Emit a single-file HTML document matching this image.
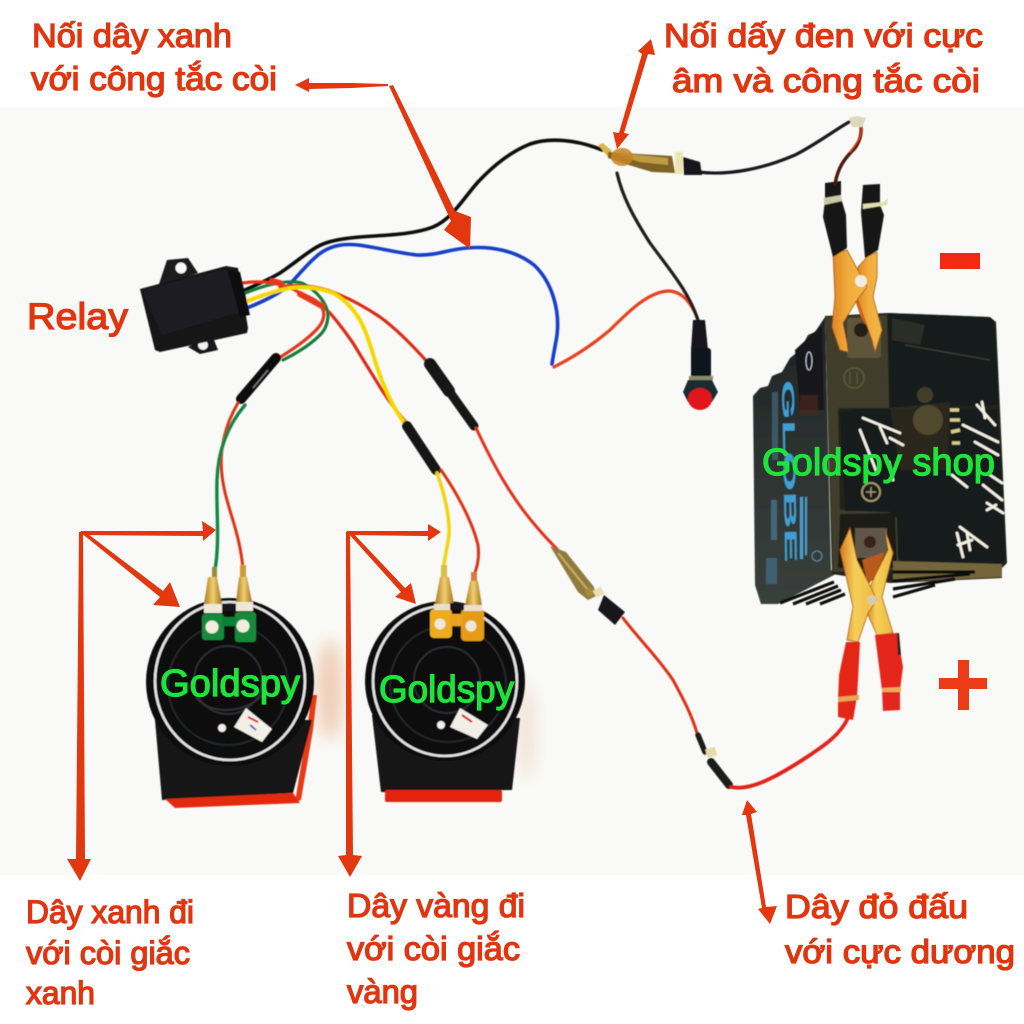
<!DOCTYPE html>
<html lang="vi">
<head>
<meta charset="utf-8">
<title>Relay horn wiring diagram</title>
<style>
html,body{margin:0;padding:0;background:#fff}
svg{display:block}
.t{font-family:"Liberation Sans",sans-serif;font-size:33px;fill:#e2350f;stroke:#e2350f;stroke-width:1.3}
.g{font-family:"Liberation Sans",sans-serif;font-size:38px;fill:#1de43a;stroke:#1de43a;stroke-width:1.3}
.w{fill:none;stroke-linecap:round;stroke-linejoin:round}
</style>
</head>
<body>
<svg width="1024" height="1024" viewBox="0 0 1024 1024" xmlns="http://www.w3.org/2000/svg">
<defs>
<filter id="soft" x="-10%" y="-10%" width="120%" height="120%"><feGaussianBlur stdDeviation="0.45"/></filter>
<filter id="sh" x="-50%" y="-30%" width="200%" height="160%"><feGaussianBlur stdDeviation="8"/></filter>
<linearGradient id="gold" x1="0" x2="1" y1="0" y2="0"><stop offset="0" stop-color="#a9781d"/><stop offset=".5" stop-color="#f0cf72"/><stop offset="1" stop-color="#a3721b"/></linearGradient>
<linearGradient id="jaw" x1="0" x2="1" y1="0" y2="0"><stop offset="0" stop-color="#df8526"/><stop offset=".45" stop-color="#f2ac3c"/><stop offset="1" stop-color="#f0b748"/></linearGradient>
<linearGradient id="jaw2" x1="0" x2="1" y1="0" y2="0"><stop offset="0" stop-color="#d47a22"/><stop offset=".4" stop-color="#f5cf58"/><stop offset="1" stop-color="#eeb93f"/></linearGradient>
<linearGradient id="side" x1="0" x2="0" y1="0" y2="1"><stop offset="0" stop-color="#1f2425"/><stop offset="1" stop-color="#3a403c"/></linearGradient>
</defs>

<rect width="1024" height="1024" fill="#fff"/>
<rect y="107" width="1024" height="768" fill="#f9faf7"/>

<!-- horn shadows -->
<ellipse cx="330" cy="690" rx="14" ry="50" fill="#eec5a8" filter="url(#sh)" opacity=".8"/>
<ellipse cx="526" cy="730" rx="10" ry="50" fill="#ecd2c0" filter="url(#sh)" opacity=".55"/>

<g filter="url(#soft)">
<!-- black wire to clip from relay -->
<path class="w" stroke="#111" stroke-width="3.6" d="M245 290C258 284 270 279 280 273C292 265 300 258 312 250C322 243 333 240 350 238C375 235 410 236 433 227C452 219 462 200 478 182C492 167 510 152 530 144C550 137 578 140 602 150"/>
<!-- blue wire -->
<path class="w" stroke="#1540c8" stroke-width="3.6" d="M247 308C262 302 275 296 287 287C298 276 306 265 318 255C328 247 340 243 358 245C375 247 398 253 417 255C435 256 450 249 467 248C490 246 515 250 534 265C552 282 560 310 557 335C555 348 553 356 552 364"/>
<!-- red/orange switch wire -->
<path class="w" stroke="#e8401a" stroke-width="3.2" d="M554 367C572 358 590 347 610 330C628 312 648 292 668 291C682 291 692 303 698 320"/>
<!-- black wire to switch -->
<path class="w" stroke="#1a1a1a" stroke-width="3.2" d="M617 173C622 195 632 215 650 243C668 268 688 290 698 320"/>

<!-- long red wire to fuse -->
<path class="w" stroke="#dc2c12" stroke-width="3.2" d="M280 287C298 284 312 286 327 290C345 296 362 305 380 317C398 330 415 348 430 365"/>
<!-- red wire to horn 2 -->
<path class="w" stroke="#dc2c12" stroke-width="3.2" d="M300 295C310 298 318 303 327 310C337 320 345 332 353 343C362 358 372 374 380 387C388 400 398 413 408 425"/>
<!-- green -->
<path class="w" stroke="#187a3a" stroke-width="3.2" d="M243 294C262 286 285 279 302 283C316 290 328 303 328 317C327 325 325 330 320 335C310 345 297 353 283 360"/>
<!-- red stub to horn 1 -->
<path class="w" stroke="#e5361a" stroke-width="3.2" d="M243 283C262 280 285 283 300 293C312 298 321 302 323 310C325 316 323 322 318 328C307 340 293 349 279 358"/>
<path class="w" stroke="#e8381a" stroke-width="6" d="M272 281L280 283M300 294L322 306"/>
<!-- yellow wire -->
<path class="w" stroke="#f6d800" stroke-width="4" d="M245 302C260 296 275 291 290 288C305 286 320 288 333 293C346 300 354 310 360 320C368 335 372 352 377 367C383 385 393 408 405 424"/>

<!-- heat shrink horn1 -->
<path class="w" stroke="#111" stroke-width="10" d="M241 399L276 358"/>
<path stroke="#777" stroke-width="1.5" d="M253 388L268 370"/>
<!-- horn 1 wires -->
<path class="w" stroke="#dd3319" stroke-width="3" d="M238 403C225 425 219 450 222 475C225 505 240 530 243 570"/>
<path class="w" stroke="#158445" stroke-width="3.4" d="M245 405C228 425 218 450 217 480C216 510 220 540 215 570"/>

<!-- heat shrink horn 2 -->
<path class="w" stroke="#141414" stroke-width="10" d="M407 426L436 470"/>
<path class="w" stroke="#f0d518" stroke-width="3.6" d="M437 473C445 495 450 518 449 535C447 550 444 560 443 572"/>
<path class="w" stroke="#dd3319" stroke-width="3" d="M441 470C455 490 472 520 478 545C480 560 476 570 473 578"/>

<!-- fuse -->
<path class="w" stroke="#141414" stroke-width="12" d="M430 364L449 391"/>
<path class="w" stroke="#141414" stroke-width="9" d="M449 391L474 426"/>
<!-- red to alligator -->
<path class="w" stroke="#e0301a" stroke-width="3" d="M476 428C492 462 510 496 535 525C545 537 553 545 558 550"/>
<!-- alligator connector -->
<path d="M550 546L566 552L594 587L596 596L588 600L578 592Z" fill="#8f7a3f"/>
<path d="M558 553L588 590" stroke="#c9ab62" stroke-width="2"/>
<circle cx="590" cy="592" r="4.5" fill="#a68d3d"/>
<path d="M598 610L604 595L625 612L615 625Z" fill="#15191f"/>
<rect x="594" y="588" width="9" height="8" fill="#e8e0b0" transform="rotate(-30 599 592)"/>
<!-- red to connector -->
<path class="w" stroke="#df2d17" stroke-width="3" d="M623 618C638 638 660 660 673 680C684 700 692 716 697 733"/>
<path class="w" stroke="#1a1a1a" stroke-width="5.5" d="M698 735L705 752"/>
<rect x="706" y="748" width="10" height="9" fill="#e5dca8" transform="rotate(-15 711 752)"/>
<path class="w" stroke="#1d1d1d" stroke-width="8" d="M711 762L729 785"/>
<path class="w" stroke="#e2201a" stroke-width="3.8" d="M731 787C750 791 775 778 807 757C825 745 840 735 848 718"/>

<!-- RELAY -->
<path d="M158 287L167 260L188 258L198 273Z" fill="#1a1b1d"/>
<circle cx="181" cy="268" r="5.5" fill="#f9faf7"/>
<path d="M188 347L212 335L218 350L200 354Z" fill="#17181a"/>
<circle cx="203" cy="345" r="5" fill="#f2f2ee"/>
<path d="M140 289L226 266L238 268L248 328L247 333L160 352L155 350Z" fill="#151618"/>
<path d="M142 290L226 269L240 312L162 335Z" fill="#1d1e20"/>
<path d="M228 270L240 272L250 315L240 317Z" fill="#0e0e0f"/>

<!-- SWITCH -->
<path d="M693 320H705L708 350H691Z" fill="#15191c"/>
<rect x="691" y="348" width="20" height="30" rx="3" fill="#10171a"/>
<rect x="689" y="376" width="24" height="4" fill="#8b8a66"/>
<path d="M688 380H712L718 392L712 402H688L683 392Z" fill="#1b2a30"/>
<ellipse cx="700" cy="399" rx="12" ry="11" fill="#e0121c"/>

<!-- CLIP on wire -->
<path class="w" stroke="#17171a" stroke-width="3.2" d="M698 172C730 176 765 168 795 155C815 145 835 130 849 122"/>
<path d="M598 145L603 143L612 151L608 157Z" fill="#d9b648"/>
<path d="M608 152L672 156L675 173L652 172L622 163L608 158Z" fill="#7d6327"/>
<path d="M610 152L668 158L668 165L640 162Z" fill="#c09a45"/>
<ellipse cx="622" cy="157" rx="11" ry="9" fill="#c98227" opacity=".85"/>
<rect x="675" y="152" width="8" height="22" fill="#ece5b0"/>
<path d="M683 157L700 162L702 175L684 175Z" fill="#17181a"/>

<!-- BATTERY -->
<!-- left face -->
<path d="M825 317L831 570L836 574L778 604L761 604L755 585L753 396L760 388L768 386L772 376L782 372L790 358L800 350L808 335L815 332Z" fill="url(#side)"/>
<path d="M795 350L822 325L824 410L800 410Z" fill="#15181c"/>
<rect x="800" y="395" width="18" height="20" fill="#4a2a20" opacity=".7"/>
<ellipse cx="809" cy="361" rx="3" ry="9" fill="none" stroke="#ccd" stroke-width="1"/>
<!-- front base -->
<path d="M825 316L888 313L990 317L996 322L1007 563L1000 570L1002 578L890 583L832 574Z" fill="#23231a"/>
<!-- top right -->
<path d="M888 313L988 317L994 322L999 405L890 408Z" fill="#191c1d"/>
<path d="M892 318L925 325L920 345L892 340Z" fill="#34362e" opacity=".7"/>
<path d="M905 345L990 360" stroke="#3a3a30" stroke-width="1.5"/>
<!-- olive column -->
<path d="M825 317L887 315L889 408L838 408L840 510L900 513L898 570L833 572Z" fill="#3f3d2a"/>
<circle cx="854" cy="378" r="10" fill="none" stroke="#5b5236" stroke-width="2"/>
<path d="M850 372V384M857 372V384" stroke="#5b5236" stroke-width="1.5"/>
<!-- inner dark -->
<path d="M840 412L860 409H997L1006 560L995 565H906L898 558L897 518L888 511H845Z" fill="#151a1b"/>
<path d="M890 408L950 402L948 470L900 470Z" fill="#2d2c20" opacity=".85"/>
<circle cx="928" cy="420" r="15" fill="#5f5436" opacity=".75"/>
<circle cx="925" cy="395" r="8" fill="#5f5436" opacity=".6"/>
<path d="M840 514L895 513L897 568L838 568Z" fill="#1d1d17"/>
<circle cx="871" cy="492" r="9" fill="none" stroke="#a39466" stroke-width="2"/>
<path d="M866 492H876M871 487V497" stroke="#a39466" stroke-width="1.5"/>
<!-- ledge -->
<path d="M893 561L1002 564L1002 577L893 582Z" fill="#75653a"/>
<!-- GLOBE label -->
<text transform="translate(782 380) rotate(89)" font-family="Liberation Sans, sans-serif" font-weight="700" font-size="17" fill="#3f9fd2" textLength="183" lengthAdjust="spacingAndGlyphs">GLOBE</text>
<rect x="772" y="392" width="6" height="68" fill="#4b7a94" opacity=".55"/>
<rect x="771" y="500" width="6" height="40" fill="#4b7a94" opacity=".7"/>
<rect x="766" y="558" width="11" height="26" fill="#3f6d85" opacity=".75"/>
<rect x="800" y="497" width="3" height="62" fill="#4d9cc7"/>
<rect x="805" y="497" width="2" height="58" fill="#4d9cc7"/>
<circle cx="817" cy="556" r="5" fill="none" stroke="#5d8ea8"/>
<!-- white writing -->
<g stroke="#f5f0e2" stroke-width="2.8" fill="none" stroke-linecap="round">
<path d="M863 418L900 433M860 430L877 473M880 427L887 443M890 438L903 445"/>
<path d="M977 405L995 425M982 402L985 418M963 425L998 442M975 442L998 455M952 475L967 487M990 475L1002 483M983 485L1002 500M987 503L1003 513M987 510L996 505"/>
<path d="M960 527L987 547M957 533L963 557M967 533L970 550M958 545L972 540"/>
<path d="M889 462L893 480" />
</g>
<path d="M950 410H959M950 420H960M951 432L960 430M952 443H960" stroke="#d9c98a" stroke-width="3.5" fill="none"/>
<!-- fins -->
<g stroke="#0e0e10" stroke-width="3.2">
<path d="M780 603L834 582M793 604L838 586M806 604L841 590M820 604L845 594M893 572L975 572M893 581L970 574M893 589L955 579M893 597L935 585"/>
</g>
<!-- Upper terminal -->
<rect x="847" y="318" width="34" height="40" rx="3" fill="#5e553a"/>
<circle cx="861" cy="330" r="7" fill="#251c14"/>
<!-- Upper clip jaws -->
<path d="M855 300L872 290L874 307L866 325L860 315Z" fill="#d9641a"/>
<path d="M877 252L868 256L858 267L857 298L872 340L875 352L882 330L873 297L877 277Z" fill="url(#jaw)" stroke="#a4561a" stroke-width=".8"/>
<path d="M833 253L847 250L867 287L857 300L843 323L847 343L848 352L840 350L832 327L835 297Z" fill="url(#jaw)" stroke="#a4561a" stroke-width=".8"/>
<circle cx="861" cy="281" r="6" fill="#f1ede0"/>
<!-- Upper handles -->
<path d="M825 183L841 181L841 198L846 215L847 248L833 257L823 217L825 200Z" fill="#121416"/>
<path d="M863 185L880 184L880 205L884 215L878 250L865 258L861 212Z" fill="#121416"/>
<path d="M824 198L841 195L842 201L824 205Z" fill="#c9c7a5"/>
<path d="M863 204L884 202L888 198L887 205L863 209Z" fill="#dfe0a8"/>
<path class="w" stroke="#4a160a" stroke-width="3.4" d="M835 184C838 168 843 160 855 148C862 138 862 128 860 124"/>
<path class="w" stroke="#d13a14" stroke-width="1.8" d="M850 152C858 142 863 135 861 126"/>
<path d="M849 118L857 116L866 118L862 127L852 127Z" fill="#dcd8bd"/>

<!-- Lower terminal -->
<rect x="855" y="528" width="32" height="30" fill="#5d564a"/>
<circle cx="870" cy="542" r="6" fill="#3b2013"/>
<!-- Lower clip jaws -->
<path d="M862 560L884 552L880 570L868 585Z" fill="#b75a1a"/>
<path d="M885 530L893 553L882 597L893 633L877 635L868 615L865 600L873 580L888 550Z" fill="url(#jaw2)" stroke="#a8591b" stroke-width=".8"/>
<path d="M850 528L840 550L853 607L847 640L858 642L868 613L877 600L857 560Z" fill="url(#jaw2)" stroke="#a8591b" stroke-width=".8"/>
<circle cx="872" cy="600" r="5" fill="#d8ccb0"/>
<!-- Lower handles -->
<path d="M846 642H860L858 680L857 697L853 720L838 717L838 700L839 675Z" fill="#e42814"/>
<path d="M875 635L897 633L903 667L900 690L900 710L883 711L882 690Z" fill="#e4281a"/>
<path d="M897 633L899 633L901 655L898 655Z" fill="#222"/>
<path d="M838 697L859 695V700L838 702Z" fill="#e9a55a"/>
<path d="M882 688L901 687V692L882 692Z" fill="#ecab5e"/>

<!-- HORN 1 -->
<path d="M312 695L317 695L313 730L301 800L295 802L302 760Z" fill="#e63b14"/>
<path d="M155 720L162 800L293 793L312 720Z" fill="#121315"/>
<path d="M165 799L293 793L300 803L175 808Z" fill="#e42a10"/>
<circle cx="230" cy="682" r="84" fill="#08090b"/>
<ellipse cx="230" cy="681" rx="75" ry="79" fill="#0d0e11" stroke="#e4e4e4" stroke-width="2.6"/>
<circle cx="228" cy="685" r="60" fill="none" stroke="#24262b" stroke-width="2"/>
<circle cx="228" cy="680" r="34" fill="none" stroke="#2a2d33" stroke-width="2"/>
<path d="M195 695C205 715 245 715 262 695" fill="none" stroke="#2d3035" stroke-width="2"/>
<circle cx="222" cy="728" r="4" fill="#f1efe7"/>
<path d="M246 708L272 729L262 742L234 727Z" fill="#f2efe6"/>
<path d="M248 717L258 722" stroke="#d12" stroke-width="2"/>
<path d="M250 725L256 730" stroke="#66b" stroke-width="2"/>
<rect x="202" y="614" width="22" height="26" rx="3" fill="#128a3a"/>
<rect x="235" y="612" width="21" height="30" rx="3" fill="#128a3a"/>
<rect x="222" y="617" width="14" height="9" fill="#0e8037"/>
<circle cx="212" cy="627" r="6.5" fill="#f0ede0"/>
<circle cx="243" cy="626" r="6.5" fill="#f0ede0"/>
<rect x="212" y="567" width="5" height="11" fill="#9c8a3d"/>
<rect x="240" y="565" width="6" height="12" fill="#c89b3c"/>
<path d="M208 577H217L222 604H204Z" fill="url(#gold)"/>
<path d="M239 577H247L252 602H236Z" fill="url(#gold)"/>
<rect x="204" y="604" width="18" height="9" fill="#eee8da"/>
<rect x="236" y="602" width="17" height="9" fill="#eee8da"/>
<rect x="222" y="604" width="14" height="7" fill="#15171a"/>

<!-- HORN 2 -->
<path d="M372 715L381 792L512 790L520 718Z" fill="#121315"/>
<rect x="385" y="790" width="117" height="12" rx="2" fill="#e4230f"/>
<circle cx="445" cy="681" r="80" fill="#08090b"/>
<ellipse cx="445" cy="681" rx="72" ry="75" fill="#0d0e11" stroke="#e4e4e4" stroke-width="2.6"/>
<circle cx="448" cy="684" r="58" fill="none" stroke="#24262b" stroke-width="2"/>
<circle cx="447" cy="680" r="33" fill="none" stroke="#2a2d33" stroke-width="2"/>
<circle cx="441" cy="725" r="4" fill="#f1efe7"/>
<path d="M460 708L488 725L477 739L450 727Z" fill="#f2efe6"/>
<path d="M462 715L472 722" stroke="#d12" stroke-width="2"/>
<rect x="430" y="609" width="22" height="29" rx="4" fill="#ecac1f"/>
<rect x="461" y="609" width="23" height="32" rx="4" fill="#e59b18"/>
<rect x="450" y="614" width="13" height="12" fill="#eea024"/>
<circle cx="440" cy="624" r="5.5" fill="#eee8da"/>
<circle cx="471" cy="626" r="5.5" fill="#eee8da"/>
<rect x="441" y="565" width="6" height="12" fill="#d9be4a"/>
<rect x="471" y="572" width="6" height="9" fill="#d77a46"/>
<path d="M440 577H449L454 604H435Z" fill="url(#gold)"/>
<path d="M470 581H478L482 606H465Z" fill="url(#gold)"/>
<rect x="434" y="604" width="17" height="6" fill="#e9e0cd"/>
<rect x="464" y="605" width="18" height="6" fill="#e9e0cd"/>
<rect x="450" y="603" width="14" height="7" fill="#15171a"/>
</g>

<!-- red +/- marks -->
<rect x="940" y="253" width="40" height="16" fill="#f22a12"/>
<rect x="939" y="678" width="48" height="11" fill="#ed3a17"/>
<rect x="958" y="660" width="11" height="50" fill="#ed3a17"/>

<!-- ARROWS -->
<g fill="#e2370f" stroke="none">
<!-- top-left -->
<path d="M295 85L309 78L309 83L352 83L388 84L388 86L352 88L309 89L309 92Z"/>
<path d="M389 86L393 85L455 211L471 217L470 249L444 230L451 221Z"/>
<!-- top-right double -->
<path d="M651 39L655 55L648 54L624 133L629 134L617 149L613 132L619 133L642 54L638 51Z"/>
<!-- horn 1 group -->
<path d="M216 530L202 521L203 531L81 531L79 535L203 536L203 541Z"/>
<path d="M80 532L84 531L163 591L170 582L180 607L153 605L160 597Z"/>
<path d="M79 532H83L85 859L91 859L80 881L67 859L76 859Z"/>
<!-- horn 2 group -->
<path d="M441 532L428 524L428 531L347 531L347 535L428 536L428 541Z"/>
<path d="M347 532L351 531L405 588L411 583L416 604L395 597L401 592Z"/>
<path d="M346 532H350L353 855L362 856L350 877L338 856L346 855Z"/>
<!-- bottom double -->
<path d="M747 800L757 812L751 814L766 907L777 906L770 924L758 909L762 908L746 815L742 815Z"/>
</g>

<!-- TEXT -->
<g class="t">
<text x="32" y="47" textLength="200" lengthAdjust="spacingAndGlyphs">Nối dây xanh</text>
<text x="31" y="90" textLength="246" lengthAdjust="spacingAndGlyphs">với công tắc còi</text>
<text x="664" y="47" textLength="319" lengthAdjust="spacingAndGlyphs">Nối dấy đen với cực</text>
<text x="672" y="92" textLength="308" lengthAdjust="spacingAndGlyphs">âm và công tắc còi</text>
<text x="27" y="329" style="font-size:37px" textLength="101" lengthAdjust="spacingAndGlyphs">Relay</text>
<text x="26" y="923" textLength="168" lengthAdjust="spacingAndGlyphs" style="font-size:32px">Dây xanh đi</text>
<text x="26" y="964" textLength="164" lengthAdjust="spacingAndGlyphs" style="font-size:32px">với còi giắc</text>
<text x="26" y="1004" textLength="69" lengthAdjust="spacingAndGlyphs" style="font-size:32px">xanh</text>
<text x="347" y="917" textLength="178" lengthAdjust="spacingAndGlyphs">Dây vàng đi</text>
<text x="347" y="960" textLength="173" lengthAdjust="spacingAndGlyphs">với còi giắc</text>
<text x="347" y="1003" textLength="71" lengthAdjust="spacingAndGlyphs">vàng</text>
<text x="785" y="918" textLength="183" lengthAdjust="spacingAndGlyphs">Dây đỏ đấu</text>
<text x="785" y="963" textLength="230" lengthAdjust="spacingAndGlyphs">với cực dương</text>
</g>
<text class="g" x="160" y="696" textLength="140" lengthAdjust="spacingAndGlyphs">Goldspy</text>
<text class="g" x="379" y="702" textLength="135" lengthAdjust="spacingAndGlyphs">Goldspy</text>
<text class="g" x="762" y="475" textLength="233" lengthAdjust="spacingAndGlyphs">Goldspy shop</text>
</svg>
</body>
</html>
